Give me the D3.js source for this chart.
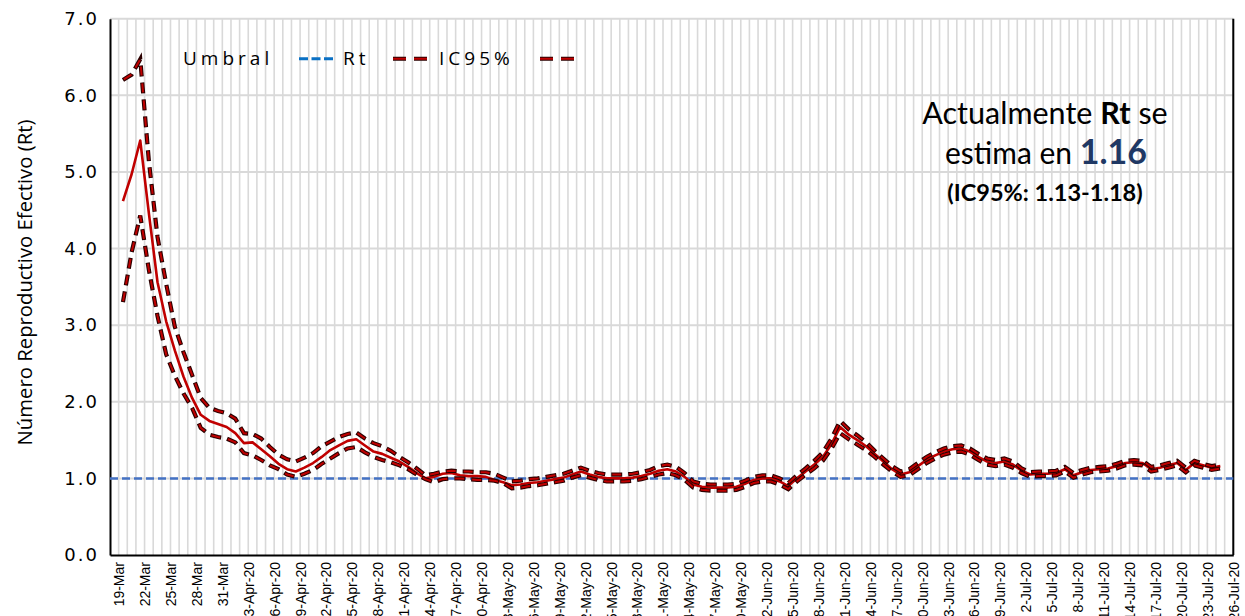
<!DOCTYPE html>
<html>
<head>
<meta charset="utf-8">
<script src="https://cdn.jsdelivr.net/npm/d3@7"></script>
<style>
  body { margin: 0; background: #fff; }
  svg { display: block; }
</style>
</head>
<body>
<div id="chart"></div>
<script>
(function () {
  // Serie diaria, primer dia 19-Mar-2020
  const startDate = "2020-03-19";
  const axisStart = "2020-03-18";
  const axisEnd = "2020-07-26";

  const rt = [
    4.62, 4.97, 5.41, 4.46, 3.56, 3.05, 2.67, 2.33, 2.05, 1.83,
    1.75, 1.71, 1.67, 1.59, 1.46, 1.47, 1.38, 1.29, 1.19, 1.12,
    1.09, 1.14, 1.20, 1.28, 1.37, 1.43, 1.49, 1.51, 1.43, 1.35,
    1.32, 1.27, 1.22, 1.15, 1.07, 1.00, 1.02, 1.06, 1.07, 1.04,
    1.03, 1.03, 1.02, 0.98, 0.95, 0.91, 0.92, 0.94, 0.95, 0.97,
    0.99, 1.01, 1.05, 1.09, 1.05, 1.02, 1.00, 1.00, 1.00, 1.01,
    1.03, 1.06, 1.10, 1.12, 1.09, 1.02, 0.92, 0.89, 0.88, 0.88,
    0.88, 0.89, 0.93, 0.98, 1.00, 1.00, 0.96, 0.90, 1.00, 1.09,
    1.18, 1.28, 1.45, 1.67, 1.57, 1.50, 1.42, 1.32, 1.22, 1.12,
    1.05, 1.08, 1.16, 1.24, 1.30, 1.35, 1.38, 1.39, 1.35, 1.28,
    1.22, 1.20, 1.22, 1.18, 1.10, 1.05, 1.06, 1.06, 1.07, 1.12,
    1.04, 1.08, 1.11, 1.12, 1.13, 1.16, 1.20, 1.21, 1.20, 1.12,
    1.14, 1.17, 1.20, 1.11, 1.20, 1.17, 1.14, 1.16
  ];

  const icHigh = [
    6.20, 6.27, 6.47, 5.14, 4.15, 3.54, 2.98, 2.65, 2.35, 2.05,
    1.92, 1.88, 1.85, 1.78, 1.59, 1.58, 1.52, 1.41, 1.31, 1.25,
    1.22, 1.27, 1.33, 1.42, 1.48, 1.54, 1.58, 1.60, 1.52, 1.46,
    1.42, 1.36, 1.28, 1.21, 1.13, 1.04, 1.06, 1.09, 1.10, 1.09,
    1.09, 1.08, 1.08, 1.06, 1.01, 0.96, 0.97, 0.99, 1.00, 1.02,
    1.04, 1.06, 1.10, 1.14, 1.10, 1.07, 1.05, 1.05, 1.05, 1.06,
    1.08, 1.11, 1.16, 1.18, 1.15, 1.07, 0.96, 0.93, 0.92, 0.92,
    0.92, 0.93, 0.97, 1.02, 1.04, 1.04, 1.00, 0.94, 1.04, 1.13,
    1.23, 1.34, 1.52, 1.75, 1.64, 1.56, 1.47, 1.36, 1.26, 1.16,
    1.09, 1.12, 1.20, 1.28, 1.34, 1.39, 1.42, 1.43, 1.39, 1.32,
    1.26, 1.24, 1.26, 1.22, 1.13, 1.08, 1.09, 1.09, 1.10, 1.15,
    1.07, 1.11, 1.14, 1.15, 1.16, 1.19, 1.23, 1.24, 1.23, 1.15,
    1.17, 1.20, 1.23, 1.14, 1.23, 1.19, 1.16, 1.18
  ];

  const icLow = [
    3.30, 3.95, 4.43, 3.72, 3.12, 2.62, 2.34, 2.11, 1.92, 1.66,
    1.57, 1.54, 1.52, 1.47, 1.33, 1.30, 1.24, 1.17, 1.12, 1.05,
    1.02, 1.06, 1.11, 1.19, 1.26, 1.33, 1.39, 1.41, 1.34, 1.28,
    1.24, 1.21, 1.17, 1.12, 1.05, 0.99, 0.95, 0.99, 1.00, 1.00,
    0.99, 0.98, 0.98, 0.97, 0.94, 0.87, 0.88, 0.90, 0.91, 0.93,
    0.95, 0.97, 1.01, 1.04, 1.01, 0.98, 0.96, 0.96, 0.96, 0.97,
    0.99, 1.02, 1.05, 1.07, 1.04, 0.98, 0.88, 0.85, 0.84, 0.84,
    0.84, 0.85, 0.89, 0.94, 0.96, 0.96, 0.92, 0.86, 0.96, 1.05,
    1.13, 1.23, 1.39, 1.59, 1.51, 1.44, 1.37, 1.28, 1.18, 1.09,
    1.02, 1.04, 1.12, 1.20, 1.26, 1.31, 1.34, 1.35, 1.31, 1.24,
    1.18, 1.16, 1.18, 1.14, 1.07, 1.02, 1.03, 1.03, 1.04, 1.09,
    1.01, 1.05, 1.08, 1.09, 1.10, 1.13, 1.17, 1.18, 1.17, 1.09,
    1.11, 1.14, 1.17, 1.08, 1.17, 1.14, 1.11, 1.13
  ];

  const umbral = 1.0;
  const yTicks = [0, 1, 2, 3, 4, 5, 6, 7];
  const labelEvery = 3; // una etiqueta cada 3 dias
  const legendLabels = ["Umbral", "Rt", "IC95%"];
  const rtActual = "1.16";
  const icActual = "(IC95%: 1.13-1.18)";

  const width = 1245;
  const height = 616;
  const plot = { left: 110, right: 1233.3, top: 18.7, bottom: 555 };

  const colors = {
    rt: "#c00000",
    ic: "#c00000",
    icEdge: "#2b0000",
    umbral: "#4472c4",
    legendBlue: "#0a70c4",
    grid: "#d9d9d9",
    navy: "#1f3864",
  };

  const parse = d3.utcParse("%Y-%m-%d");
  const start = parse(startDate);
  const dates = rt.map((_, i) => d3.utcHour.offset(d3.utcDay.offset(start, i), 12));

  const svg = d3.select("#chart")
    .append("svg")
    .attr("width", width)
    .attr("height", height);

  const x = d3.scaleUtc()
    .domain([parse(axisStart), parse(axisEnd)])
    .range([plot.left, plot.right]);

  const y = d3.scaleLinear()
    .domain([0, 7])
    .range([plot.bottom, plot.top]);

  // Rejilla vertical (un dia por linea)
  const dayLines = d3.utcDay.range(d3.utcDay.offset(parse(axisStart), 1), d3.utcDay.offset(parse(axisEnd), 1));
  svg.append("g")
    .selectAll("line")
    .data(dayLines)
    .join("line")
    .attr("x1", (d) => x(d))
    .attr("x2", (d) => x(d))
    .attr("y1", plot.top)
    .attr("y2", plot.bottom)
    .attr("stroke", colors.grid)
    .attr("stroke-width", 1.6);

  // Rejilla horizontal
  svg.append("g")
    .selectAll("line")
    .data(yTicks.filter((v) => v > 0))
    .join("line")
    .attr("x1", plot.left)
    .attr("x2", plot.right)
    .attr("y1", (d) => y(d))
    .attr("y2", (d) => y(d))
    .attr("stroke", colors.grid)
    .attr("stroke-width", 2);

  // Eje X
  const labelDates = d3.utcDay.range(start, d3.utcDay.offset(parse(axisEnd), 1)).filter((d, i) => i % labelEvery === 0);
  const fmtMar = d3.utcFormat("%-d-%b");
  const fmtYear = d3.utcFormat("%-d-%b-%y");
  const xAxis = svg.append("g")
    .attr("transform", `translate(0,${plot.bottom})`)
    .call(
      d3.axisBottom(x)
        .tickValues(labelDates)
        .tickFormat((d) => (d.getUTCMonth() === 2 ? fmtMar(d) : fmtYear(d)))
        .tickSize(0)
        .tickSizeOuter(0)
    );
  xAxis.select(".domain").attr("stroke", "#000").attr("stroke-width", 2);
  xAxis.selectAll("text")
    .attr("transform", "rotate(-90)")
    .attr("x", -7)
    .attr("y", 0)
    .attr("dy", "0.35em")
    .attr("text-anchor", "end")
    .style("font-family", "'Liberation Sans', Arial, sans-serif")
    .style("font-size", "14px")
    .style("fill", "#000");

  // Eje Y
  const yAxis = svg.append("g")
    .attr("transform", `translate(${plot.left},0)`)
    .call(
      d3.axisLeft(y)
        .tickValues(yTicks)
        .tickFormat(d3.format(".1f"))
        .tickSize(0)
        .tickSizeOuter(0)
        .tickPadding(11)
    );
  yAxis.select(".domain").attr("stroke", "#000").attr("stroke-width", 2);
  yAxis.selectAll("text")
    .style("font-family", "'DejaVu Sans', sans-serif")
    .style("font-size", "18px")
    .style("letter-spacing", "2px")
    .style("fill", "#000");

  // Borde derecho
  svg.append("line")
    .attr("x1", plot.right)
    .attr("x2", plot.right)
    .attr("y1", plot.top)
    .attr("y2", plot.bottom)
    .attr("stroke", "#000")
    .attr("stroke-width", 2);

  svg.append("text")
    .attr("transform", `translate(25,${(125 + 440) / 2}) rotate(-90)`)
    .attr("text-anchor", "middle")
    .attr("dy", "0.35em")
    .style("font-family", "'Open Sans', sans-serif")
    .style("font-size", "20.3px")
    .style("fill", "#000")
    .text("Número Reproductivo Efectivo (Rt)");

  // Umbral Rt = 1
  svg.append("line")
    .attr("x1", plot.left)
    .attr("x2", plot.right)
    .attr("y1", y(umbral))
    .attr("y2", y(umbral))
    .attr("stroke", colors.umbral)
    .attr("stroke-width", 2.5)
    .attr("stroke-dasharray", "8,4");

  const line = d3.line()
    .x((d, i) => x(dates[i]))
    .y((d) => y(d));

  svg.append("path")
    .datum(rt)
    .attr("d", line)
    .attr("fill", "none")
    .attr("stroke", colors.rt)
    .attr("stroke-width", 2.6)
    .attr("stroke-linejoin", "round");

  // IC95% con trazo discontinuo contorneado
  [icLow, icHigh].forEach((serie) => {
    svg.append("path")
      .datum(serie)
      .attr("d", line)
      .attr("fill", "none")
      .attr("stroke", colors.icEdge)
      .attr("stroke-width", 4.2)
      .attr("stroke-dasharray", "11,6");
    svg.append("path")
      .datum(serie)
      .attr("d", line)
      .attr("fill", "none")
      .attr("stroke", colors.ic)
      .attr("stroke-width", 2)
      .attr("stroke-dasharray", "9,8")
      .attr("stroke-dashoffset", -1);
  });

  // Leyenda
  const legend = svg.append("g")
    .style("font-family", "'Open Sans', sans-serif")
    .style("font-size", "19px")
    .style("letter-spacing", "4px")
    .style("fill", "#000");

  const legendY = 58.7;
  legend.append("text").attr("x", 183).attr("y", legendY).attr("dy", "0.35em").text(legendLabels[0]);
  legend.append("line")
    .attr("x1", 299).attr("x2", 334).attr("y1", legendY).attr("y2", legendY)
    .attr("stroke", colors.legendBlue).attr("stroke-width", 3)
    .attr("stroke-dasharray", "9,3.5");
  legend.append("text").attr("x", 343).attr("y", legendY).attr("dy", "0.35em").text(legendLabels[1]);
  legend.append("text").attr("x", 439).attr("y", legendY).attr("dy", "0.35em").text(legendLabels[2]);

  [393, 540].forEach((x0) => {
    legend.append("line")
      .attr("x1", x0).attr("x2", x0 + 34).attr("y1", legendY).attr("y2", legendY)
      .attr("stroke", colors.icEdge).attr("stroke-width", 4)
      .attr("stroke-dasharray", "13,8");
    legend.append("line")
      .attr("x1", x0).attr("x2", x0 + 34).attr("y1", legendY).attr("y2", legendY)
      .attr("stroke", colors.ic).attr("stroke-width", 2)
      .attr("stroke-dasharray", "13,8");
  });

  // Nota con el valor actual
  const note = svg.append("g")
    .attr("text-anchor", "middle")
    .style("font-family", "Lato, 'Open Sans', sans-serif")
    .style("fill", "#000");

  const l1 = note.append("text").attr("x", 1045).attr("y", 123.5).style("font-size", "30.5px");
  l1.append("tspan").text("Actualmente ");
  l1.append("tspan").style("font-weight", "bold").text("Rt");
  l1.append("tspan").text(" se");

  const l2 = note.append("text").attr("x", 1046).attr("y", 163.5).style("font-size", "30px");
  l2.append("tspan").text("estima en ");
  l2.append("tspan")
    .style("font-weight", "bold")
    .style("font-size", "34px")
    .style("fill", colors.navy)
    .text(rtActual);

  note.append("text")
    .attr("x", 1045)
    .attr("y", 201)
    .style("font-size", "23.5px")
    .style("font-weight", "bold")
    .text(icActual);
})();
</script>
</body>
</html>
